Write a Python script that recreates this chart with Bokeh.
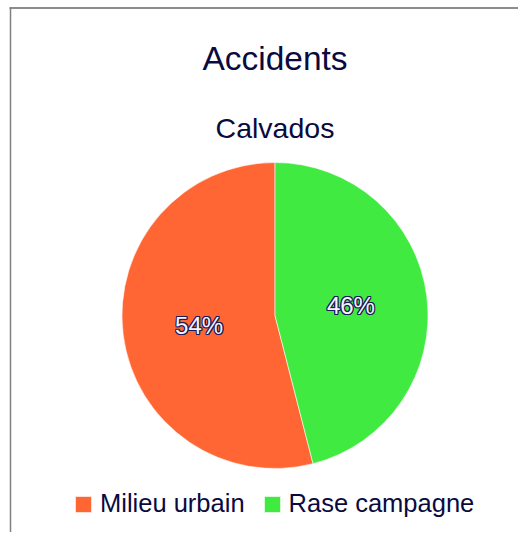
import math
from bokeh.plotting import figure
from bokeh.models import Range1d, Legend, LegendItem, ColumnDataSource
from bokeh.core.properties import value
from bokeh.embed import file_html
from bokeh.resources import INLINE

# ---- data ----
title = "Accidents"
subtitle = "Calvados"
categories = ["Milieu urbain", "Rase campagne"]
shares = [54, 46]
colors = ["#ff6633", "#40ea40"]

FONT = "Liberation Sans"
NAVY = "#0a0a40"

W, H = 518, 532
p = figure(width=W, height=H, output_backend="svg", toolbar_location=None,
           x_range=Range1d(0, W), y_range=Range1d(0, H), min_border=0)
p.axis.visible = False
p.grid.visible = False
p.outline_line_color = None
p.background_fill_color = "white"

def Y(yimg):
    return H - yimg

# frame border (top dark, left gray)
p.line(x=[9, W], y=[Y(7.5), Y(7.5)], line_color="#1a1a1a", line_width=1.2)
p.line(x=[10, 10], y=[Y(7), Y(H)], line_color="#808080", line_width=1.5)

# titles
p.text(x=[274.5], y=[Y(58)], text=[title], text_font=value(FONT), text_font_size="33.5px",
       text_color=NAVY, text_align="center", text_baseline="middle")
p.text(x=[274.5], y=[Y(127.5)], text=[subtitle], text_font=value(FONT), text_font_size="28.5px",
       text_color=NAVY, text_align="center", text_baseline="middle")

# pie
cx, cy, R = 274.5, Y(315), 153
total = sum(shares)
starts, ends, mids = [], [], []
a = math.pi / 2
for v in shares:
    s = a
    e = a + v / total * 2 * math.pi
    starts.append(s); ends.append(e); mids.append((s + e) / 2)
    a = e
src = ColumnDataSource(dict(cat=categories, val=shares, color=colors, start=starts, end=ends))
r = p.wedge(x=cx, y=cy, radius=R, start_angle="start", end_angle="end", direction="anticlock",
            fill_color="color", line_color="white", line_width=0.8, line_alpha=0.7, source=src)

# percentage labels with outline
lab_r = 0.5 * R
lx = [cx + lab_r * math.cos(m) for m in mids]
ly = [cy + lab_r * math.sin(m) for m in mids]
labels = [f"{round(v / total * 100)}%" for v in shares]
for dx, dy in [(-1, 0), (1, 0), (0, -1), (0, 1), (-1, -1), (1, 1), (-1, 1), (1, -1)]:
    p.text(x=lx, y=ly, text=labels, text_font=value(FONT), text_font_size="24px",
           text_color="#1a1a5a", text_align="center", text_baseline="middle",
           x_offset=dx, y_offset=dy)
p.text(x=lx, y=ly, text=labels, text_font=value(FONT), text_font_size="24px",
       text_color="#f4f4ff", text_align="center", text_baseline="middle")

# legend
items = [LegendItem(label=c, renderers=[r], index=i) for i, c in enumerate(categories)]
leg = Legend(items=items, orientation="horizontal", location=(73, 14),
             label_text_font=FONT, label_text_font_size="25.5px", label_text_color=NAVY,
             glyph_width=20, glyph_height=20, label_standoff=7, spacing=17,
             padding=0, margin=0, border_line_color=None, background_fill_alpha=0)
p.add_layout(leg, "center")

open("out.html", "w").write(file_html(p, INLINE))
